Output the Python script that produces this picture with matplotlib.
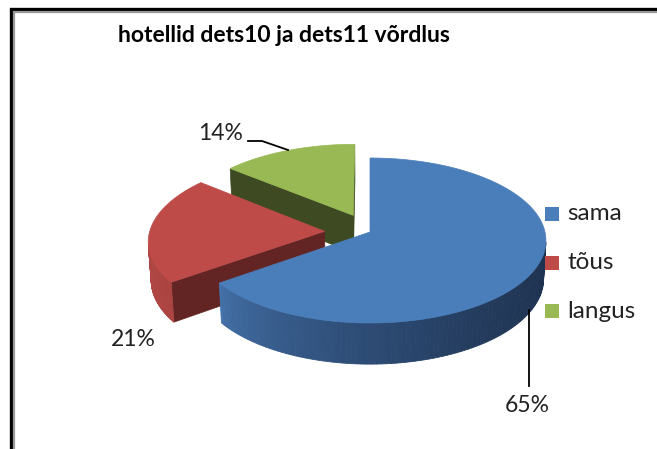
import numpy as np
import matplotlib
matplotlib.use('Agg')
import matplotlib.pyplot as plt
from matplotlib.patches import Polygon, Rectangle

# andmed
categories = ['sama', 'tõus', 'langus']
values = [65, 21, 14]
title = 'hotellid dets10 ja dets11 võrdlus'

top_colors = ['#4a7ebb', '#be4b48', '#98b954']
side_light = ['#4574ad', '#b24744', '#7d9a45']
side_dark = ['#1e3250', '#973e3b', '#5d7432']
cut_colors = ['#2c4a74', '#632523', '#3e4b22']
explode = [0.0, 0.26, 0.23]

plt.rcParams['font.family'] = ['Lato', 'DejaVu Sans']

W, H = 657, 449
fig = plt.figure(figsize=(W / 100, H / 100), dpi=100)
ax = fig.add_axes([0, 0, 1, 1])
ax.set_xlim(0, W)
ax.set_ylim(H, 0)
ax.axis('off')

# lihtne perspektiiv-projektsioon
CX, CY = 370, 232
phi = np.radians(27.8)
s, c = np.sin(phi), np.cos(phi)
D = 8.6
F = 175 * D
h = 0.25
cam = np.array([0.0, D * s, -D * c])


def proj(X, Y, Z):
    yv = Y * c + Z * s
    d = D + Z * c - Y * s
    return CX + F * X / d, CY - F * yv / d


def visible(normal, point):
    return np.dot(normal, cam - np.array(point)) > 0


def mix(c1, c2, f):
    a = np.array(matplotlib.colors.to_rgb(c1))
    b = np.array(matplotlib.colors.to_rgb(c2))
    return tuple(a + (b - a) * f)


# lõikude nurgad (kellaosuti suunas alates ülevalt)
total = sum(values)
spans = []
a = 90.0
for v in values:
    span = 360.0 * v / total
    spans.append((a - span, a))
    a -= span

# joonistamise järjekord: tagumised enne
order = [2, 1, 0]
for i in order:
    lo, hi = spans[i]
    mid = np.radians((lo + hi) / 2)
    ox, oz = explode[i] * np.cos(mid), explode[i] * np.sin(mid)
    ts = np.radians(np.linspace(lo, hi, 160))

    # lõikepinnad
    for ang, nang in [(lo, lo - 90), (hi, hi + 90)]:
        r = np.radians(ang)
        n = np.array([np.cos(np.radians(nang)), 0, np.sin(np.radians(nang))])
        rim = (ox + np.cos(r), oz + np.sin(r))
        pm = ((ox + rim[0]) / 2, -h / 2, (oz + rim[1]) / 2)
        if visible(n, pm):
            pts = [proj(ox, 0, oz), proj(rim[0], 0, rim[1]),
                   proj(rim[0], -h, rim[1]), proj(ox, -h, oz)]
            ax.add_patch(Polygon(pts, closed=True, fc=cut_colors[i], ec=cut_colors[i], lw=0.5))

    # välimine külg
    cos_lo = np.cos(ts).min()
    for t1, t2 in zip(ts[:-1], ts[1:]):
        tm = (t1 + t2) / 2
        n = np.array([np.cos(tm), 0, np.sin(tm)])
        if not visible(n, (ox + np.cos(tm), -h / 2, oz + np.sin(tm))):
            continue
        f = (np.cos(tm) - cos_lo) / (1 - cos_lo + 1e-9)
        col = mix(side_light[i], side_dark[i], np.clip(f, 0, 1) ** 0.6)
        pts = [proj(ox + np.cos(t1), 0, oz + np.sin(t1)),
               proj(ox + np.cos(t2), 0, oz + np.sin(t2)),
               proj(ox + np.cos(t2), -h, oz + np.sin(t2)),
               proj(ox + np.cos(t1), -h, oz + np.sin(t1))]
        ax.add_patch(Polygon(pts, closed=True, fc=col, ec=col, lw=0.6))

    # pealmine pind
    pts = [proj(ox, 0, oz)] + [proj(ox + np.cos(t), 0, oz + np.sin(t)) for t in ts]
    ax.add_patch(Polygon(pts, closed=True, fc=top_colors[i], ec=top_colors[i], lw=0.5))

# protsendid
pct = [f'{v}%' for v in values]
ax.text(527, 405, pct[0], fontsize=16.5, ha='center', va='center', color='#222222')
ax.plot([529, 529], [310, 386], color='black', lw=1.3)
ax.text(133, 340, pct[1], fontsize=16.5, ha='center', va='center', color='#222222')
ax.text(221, 134, pct[2], fontsize=16.5, ha='center', va='center', color='#222222')
ax.plot([248, 262, 288], [141, 141, 150], color='black', lw=1.3)

# legend
for k, name in enumerate(categories):
    y = 214 + k * 48.5
    ax.add_patch(Rectangle((545, y - 7), 14, 14, fc=top_colors[k], ec='none'))
    ax.text(567, y, name, fontsize=17.5, ha='left', va='center', color='#222222')

# pealkiri
ax.text(284, 35, title, fontsize=16.5, fontweight='bold', ha='center', va='center', color='black')

# raam
ax.plot([10.5, 10.5, W + 5], [H + 5, 8.5, 8.5], color='black', lw=2.4, solid_joinstyle='miter')
ax.plot([13.5, 13.5, W + 5], [H + 5, 11.5, 11.5], color='#999999', lw=1.6, solid_joinstyle='miter')

fig.savefig('out.png', dpi=100)
